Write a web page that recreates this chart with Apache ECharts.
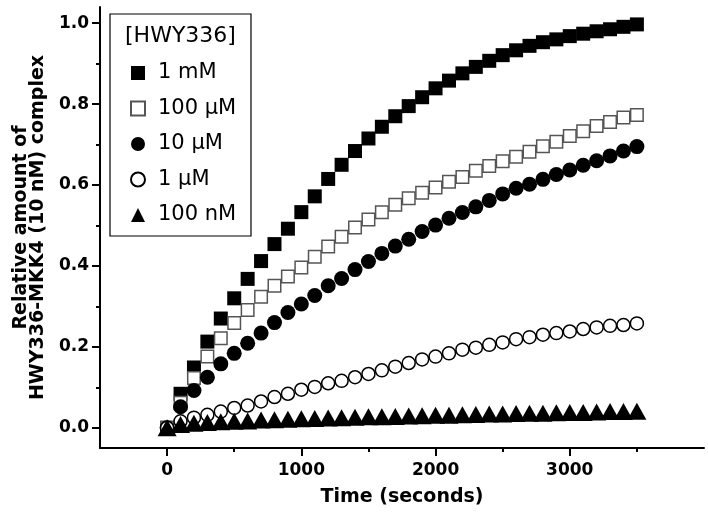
<!DOCTYPE html>
<html>
<head>
<meta charset="utf-8">
<script src="https://cdn.jsdelivr.net/npm/echarts@6/dist/echarts.min.js"></script>
<style>
html,body{margin:0;padding:0;background:#fff;}
#chart{width:708px;height:515px;}
</style>
</head>
<body>
<div id="chart"></div>
<script>
// Time points (seconds)
const times = [0,100,200,300,400,500,600,700,800,900,1000,1100,1200,1300,1400,1500,1600,1700,1800,1900,2000,2100,2200,2300,2400,2500,2600,2700,2800,2900,3000,3100,3200,3300,3400,3500];

// Series values
const s1mM = [0.000,0.084,0.149,0.213,0.270,0.320,0.368,0.412,0.454,0.492,0.533,0.572,0.615,0.650,0.684,0.715,0.744,0.770,0.795,0.817,0.839,0.858,0.876,0.892,0.907,0.921,0.933,0.944,0.953,0.960,0.968,0.974,0.980,0.985,0.991,0.997];
const s100uM = [0.000,0.062,0.123,0.176,0.221,0.259,0.291,0.324,0.351,0.374,0.396,0.423,0.448,0.472,0.495,0.515,0.533,0.551,0.567,0.581,0.594,0.608,0.620,0.635,0.647,0.659,0.670,0.682,0.696,0.707,0.721,0.733,0.746,0.756,0.767,0.773];
const s10uM = [0.000,0.052,0.092,0.125,0.158,0.184,0.209,0.234,0.260,0.285,0.306,0.327,0.351,0.369,0.391,0.411,0.431,0.449,0.466,0.485,0.501,0.518,0.532,0.546,0.562,0.578,0.592,0.602,0.614,0.626,0.637,0.649,0.660,0.672,0.684,0.695];
const s1uM = [0.000,0.016,0.025,0.032,0.040,0.049,0.055,0.065,0.076,0.084,0.094,0.101,0.110,0.116,0.125,0.133,0.142,0.151,0.160,0.169,0.176,0.184,0.193,0.198,0.205,0.211,0.219,0.224,0.230,0.234,0.238,0.244,0.248,0.252,0.254,0.258];
const s100nM = [0.000,0.008,0.011,0.013,0.015,0.016,0.017,0.019,0.020,0.021,0.022,0.023,0.024,0.025,0.026,0.027,0.027,0.028,0.029,0.030,0.031,0.031,0.032,0.033,0.034,0.034,0.035,0.036,0.036,0.037,0.038,0.038,0.039,0.040,0.040,0.041];

const seriesNames = ['1 mM','100 μM','10 μM','1 μM','100 nM'];
const legendTitle = '[HWY336]';

// Axis ticks
const xMajorTicks = [0,1000,2000,3000];
const xMinorTicks = [500,1500,2500,3500];
const yMajorTicks = [0,0.2,0.4,0.6,0.8,1.0];
const yMinorTicks = [0.1,0.3,0.5,0.7,0.9];

const xName = 'Time (seconds)';
const yName = 'Relative amount of\nHWY336-MKK4 (10 nM) complex';

function pairs(vals){ return times.map((t,i)=>[t, vals[i]]); }

const FONT = 'DejaVu Sans';
const XMIN = -500, XMAX = 4000, YMIN = -0.05, YMAX = 1.04;

const chart = echarts.init(document.getElementById('chart'), null, {renderer:'canvas'});

const axisLineStyle = {color:'#000', width:2};

const option = {
  animation: false,
  backgroundColor: '#fff',
  grid: {left:100, right:4, top:7, bottom:67, containLabel:false},
  xAxis: [
    {
      type:'value', min:XMIN, max:XMAX, position:'bottom',
      axisLine:{show:true, onZero:false, lineStyle:axisLineStyle},
      axisTick:{show:true, customValues:xMajorTicks, length:8, inside:false, lineStyle:{color:'#000', width:2}},
      axisLabel:{show:true, customValues:xMajorTicks, margin:14, color:'#000', fontFamily:FONT, fontWeight:'bold', fontSize:17,
        formatter:(v)=>String(Math.round(v))},
      splitLine:{show:false},
      name:xName, nameLocation:'middle', nameGap:40,
      nameTextStyle:{color:'#000', fontFamily:FONT, fontWeight:'bold', fontSize:19}
    },
    {
      type:'value', min:XMIN, max:XMAX, position:'bottom',
      axisLine:{show:false, onZero:false},
      axisTick:{show:true, customValues:xMinorTicks, length:4, lineStyle:{color:'#000', width:2}},
      axisLabel:{show:false},
      splitLine:{show:false}
    }
  ],
  yAxis: [
    {
      type:'value', min:YMIN, max:YMAX, position:'left',
      axisLine:{show:true, onZero:false, lineStyle:axisLineStyle},
      axisTick:{show:true, customValues:yMajorTicks, length:8, lineStyle:{color:'#000', width:2}},
      axisLabel:{show:true, customValues:yMajorTicks, margin:11, color:'#000', fontFamily:FONT, fontWeight:'bold', fontSize:17,
        formatter:(v)=>Number(v).toFixed(1)},
      splitLine:{show:false},
      name:yName, nameLocation:'middle', nameGap:47, nameRotate:90,
      nameTextStyle:{color:'#000', fontFamily:FONT, fontWeight:'bold', fontSize:19, lineHeight:17, align:'center'}
    },
    {
      type:'value', min:YMIN, max:YMAX, position:'left',
      axisLine:{show:false, onZero:false},
      axisTick:{show:true, customValues:yMinorTicks, length:4, lineStyle:{color:'#000', width:2}},
      axisLabel:{show:false},
      splitLine:{show:false}
    }
  ],
  legend: {
    orient:'vertical', left:130, top:62, padding:0,
    itemWidth:14, itemHeight:14, itemGap:13.5, symbolKeepAspect:true,
    textStyle:{color:'#000', fontFamily:FONT, fontSize:21, lineHeight:22, padding:[0,0,0,8]},
    data: seriesNames
  },
  graphic: [
    {type:'rect', shape:{x:110, y:14, width:141, height:222}, style:{fill:'none', stroke:'#000', lineWidth:1.2}, z:1},
    {type:'text', x:125, y:36, style:{text:legendTitle, fill:'#000', font:'22px "DejaVu Sans"', textVerticalAlign:'middle', textAlign:'left'}, z:2}
  ],
  series: [
    {name:seriesNames[0], type:'scatter', data:pairs(s1mM), symbol:'rect', symbolSize:14,
      itemStyle:{color:'#000', opacity:1}},
    {name:seriesNames[1], type:'scatter', data:pairs(s100uM), symbol:'rect', symbolSize:12.5,
      itemStyle:{color:'#fff', borderColor:'#555', borderWidth:1.5, opacity:1}},
    {name:seriesNames[2], type:'scatter', data:pairs(s10uM), symbol:'circle', symbolSize:15,
      itemStyle:{color:'#000', opacity:1}},
    {name:seriesNames[3], type:'scatter', data:pairs(s1uM), symbol:'circle', symbolSize:13,
      itemStyle:{color:'#fff', borderColor:'#000', borderWidth:1.5, opacity:1}},
    {name:seriesNames[4], type:'scatter', data:pairs(s100nM), symbol:'triangle', symbolSize:[19,17],
      itemStyle:{color:'#000', opacity:1}}
  ]
};
chart.setOption(option);
</script>
</body>
</html>
